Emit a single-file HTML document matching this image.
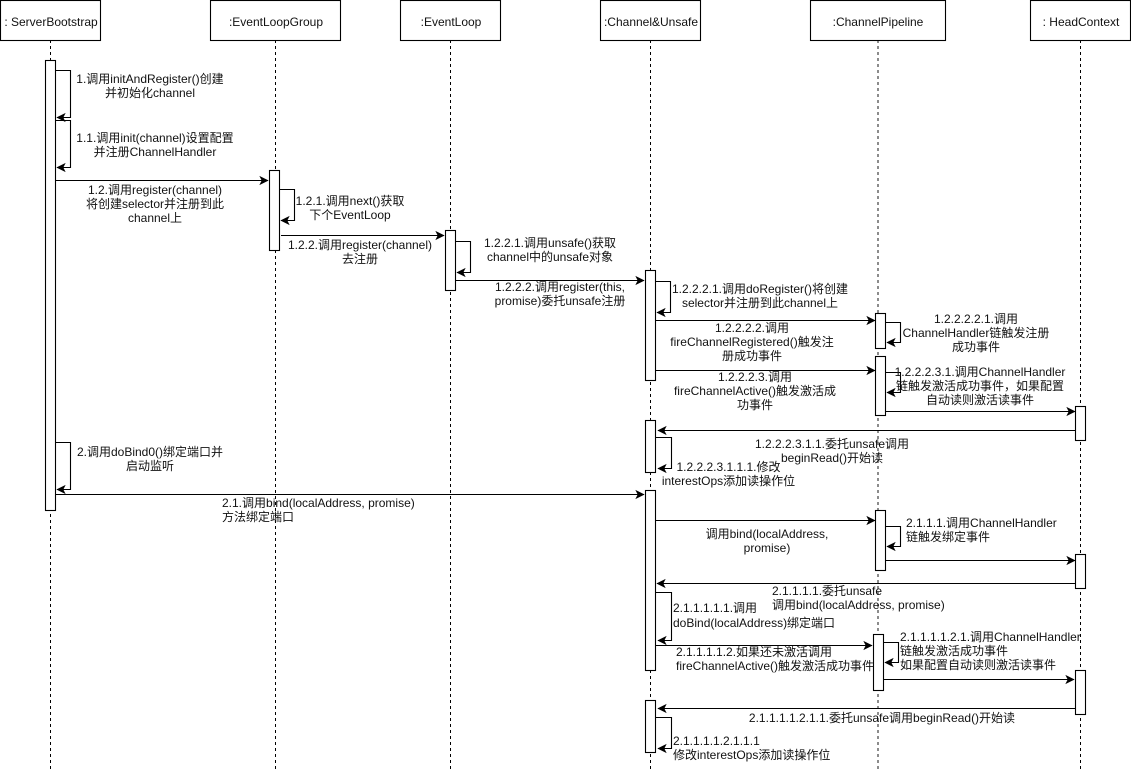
<!DOCTYPE html>
<html><head><meta charset="utf-8"><style>
html,body{margin:0;padding:0;background:#fff}
svg{display:block;filter:blur(0.3px)}
text{font-family:"Liberation Sans","Noto Sans CJK SC",sans-serif;font-size:12px;fill:#111}
.m{text-anchor:middle}
.a{fill:none;stroke:#000;stroke-width:1.1;marker-end:url(#h)}
.b{fill:#fff;stroke:#000;stroke-width:1.1}
.l{stroke:#000;stroke-width:1;stroke-dasharray:3 3}
</style></head><body>
<svg width="1131" height="771" viewBox="0 0 1131 771" xmlns="http://www.w3.org/2000/svg">
<defs><marker id="h" markerUnits="userSpaceOnUse" markerWidth="12" markerHeight="12" refX="9" refY="6" orient="auto"><path d="M9 6L1 2L3 6L1 10Z" fill="#000" stroke="#000" stroke-width="0.6"/></marker></defs>
<!-- lifelines -->
<path class="l" d="M50.5 40V769"/><path class="l" d="M275.5 40V769"/><path class="l" d="M450.5 40V769"/><path class="l" d="M650.5 40V769"/><path class="l" d="M878 40V769" style="stroke:#666;stroke-width:1.5"/><path class="l" d="M1080.5 40V769"/>
<!-- heads -->
<rect class="b" x="0.5" y="0.5" width="100" height="40"/><rect class="b" x="210.5" y="0.5" width="130" height="40"/><rect class="b" x="400.5" y="0.5" width="100" height="40"/><rect class="b" x="600.5" y="0.5" width="100" height="40"/><rect class="b" x="810.5" y="0.5" width="135" height="40"/><rect class="b" x="1030.5" y="0.5" width="100" height="40"/>
<text class="m" x="51" y="26">: ServerBootstrap</text><text class="m" x="276" y="26">:EventLoopGroup</text><text class="m" x="451" y="26">:EventLoop</text><text class="m" x="651" y="26">:Channel&amp;Unsafe</text><text class="m" x="878" y="26">:ChannelPipeline</text><text class="m" x="1081" y="26">: HeadContext</text>
<!-- activations -->
<rect class="b" x="45.5" y="60.5" width="10" height="450"/>
<rect class="b" x="269.5" y="170.5" width="10" height="80"/>
<rect class="b" x="445.5" y="230.5" width="10" height="60"/>
<rect class="b" x="645.5" y="270.5" width="10" height="110"/>
<rect class="b" x="645.5" y="420.5" width="10" height="52"/>
<rect class="b" x="645.5" y="490.5" width="10" height="180"/>
<rect class="b" x="645.5" y="700.5" width="10" height="52"/>
<rect class="b" x="875.5" y="313.5" width="10" height="35"/>
<rect class="b" x="875.5" y="356.5" width="10" height="59"/>
<rect class="b" x="875.5" y="510.5" width="10" height="60"/>
<rect class="b" x="873.5" y="634.5" width="10" height="56"/>
<rect class="b" x="1075.5" y="406.5" width="10" height="34"/>
<rect class="b" x="1075.5" y="554.5" width="10" height="34"/>
<rect class="b" x="1075.5" y="670.5" width="10" height="44"/>
<!-- messages -->
<path class="a" d="M55.5 70.5H70.5V117.5H57"/>
<path class="a" d="M55.5 120.5H70.5V167.5H57"/>
<path class="a" d="M55.5 180.5H268"/>
<path class="a" d="M279.5 189.5H294.5V220.5H281"/>
<path class="a" d="M281 235.5H444"/>
<path class="a" d="M455.5 241.5H470.5V272.5H457"/>
<path class="a" d="M455.5 280.5H644"/>
<path class="a" d="M655.5 281.5H670.5V312.5H657"/>
<path class="a" d="M655.5 320.5H875"/>
<path class="a" d="M885.5 322.5H900.5V342.5H887"/>
<path class="a" d="M655.5 370.5H875"/>
<path class="a" d="M885.5 372.5H900.5V392.5H887"/>
<path class="a" d="M885.5 411.5H1075"/>
<path class="a" d="M1075.5 430.5H658"/>
<path class="a" d="M656 437.5H671.5V468.5H658"/>
<path class="a" d="M55.5 442.5H70.5V489.5H57"/>
<path class="a" d="M55.5 494.5H644"/>
<path class="a" d="M655.5 520.5H875"/>
<path class="a" d="M885.5 526.5H900.5V546.5H887"/>
<path class="a" d="M885.5 560.5H1075"/>
<path class="a" d="M1075.5 583.5H657"/>
<path class="a" d="M655.5 592.5H671.5V640.5H658"/>
<path class="a" d="M655.5 645.5H872"/>
<path class="a" d="M883.5 642.5H898.5V662.5H885"/>
<path class="a" d="M883.5 679.5H1074"/>
<path class="a" d="M1075.5 708.5H658"/>
<path class="a" d="M655.5 717.5H671.5V748.5H658"/>
<!-- labels -->
<text class="m" x="150" y="83">1.调用initAndRegister()创建</text><text class="m" x="150" y="97">并初始化channel</text>
<text class="m" x="155" y="142">1.1.调用init(channel)设置配置</text><text class="m" x="155" y="156">并注册ChannelHandler</text>
<text class="m" x="155" y="194">1.2.调用register(channel)</text><text class="m" x="155" y="208">将创建selector并注册到此</text><text class="m" x="155" y="222">channel上</text>
<text class="m" x="350" y="205">1.2.1.调用next()获取</text><text class="m" x="350" y="219">下个EventLoop</text>
<text class="m" x="360" y="249">1.2.2.调用register(channel)</text><text class="m" x="360" y="263">去注册</text>
<text class="m" x="550" y="247">1.2.2.1.调用unsafe()获取</text><text class="m" x="550" y="261">channel中的unsafe对象</text>
<text class="m" x="560" y="291">1.2.2.2.调用register(this,</text><text class="m" x="560" y="305">promise)委托unsafe注册</text>
<text class="m" x="760" y="293">1.2.2.2.1.调用doRegister()将创建</text><text class="m" x="760" y="307">selector并注册到此channel上</text>
<text class="m" x="752" y="332">1.2.2.2.2.调用</text><text class="m" x="752" y="346">fireChannelRegistered()触发注</text><text class="m" x="752" y="360">册成功事件</text>
<text class="m" x="976" y="323">1.2.2.2.2.1.调用</text><text class="m" x="976" y="337">ChannelHandler链触发注册</text><text class="m" x="976" y="351">成功事件</text>
<text class="m" x="755" y="381">1.2.2.2.3.调用</text><text class="m" x="755" y="395">fireChannelActive()触发激活成</text><text class="m" x="755" y="409">功事件</text>
<text class="m" x="980" y="376">1.2.2.2.3.1.调用ChannelHandler</text><text class="m" x="980" y="390">链触发激活成功事件，如果配置</text><text class="m" x="980" y="404">自动读则激活读事件</text>
<text class="m" x="832" y="448">1.2.2.2.3.1.1.委托unsafe调用</text><text class="m" x="832" y="462">beginRead()开始读</text>
<text class="m" x="728.5" y="471">1.2.2.2.3.1.1.1.修改</text><text class="m" x="728.5" y="485">interestOps添加读操作位</text>
<text class="m" x="150" y="456">2.调用doBind0()绑定端口并</text><text class="m" x="150" y="470">启动监听</text>
<text x="222" y="507">2.1.调用bind(localAddress, promise)</text><text x="222" y="521">方法绑定端口</text>
<text class="m" x="767" y="538">调用bind(localAddress,</text><text class="m" x="767" y="552">promise)</text>
<text x="906" y="527">2.1.1.1.调用ChannelHandler</text><text x="906" y="541">链触发绑定事件</text>
<text x="772" y="595">2.1.1.1.1.委托unsafe</text><text x="772" y="609">调用bind(localAddress, promise)</text>
<text x="673" y="612">2.1.1.1.1.1.调用</text><text x="673" y="627">doBind(localAddress)绑定端口</text>
<text x="676" y="656">2.1.1.1.1.2.如果还未激活调用</text><text x="676" y="670">fireChannelActive()触发激活成功事件</text>
<text x="900" y="641">2.1.1.1.1.2.1.调用ChannelHandler</text><text x="900" y="655">链触发激活成功事件</text><text x="900" y="669">如果配置自动读则激活读事件</text>
<text class="m" x="882" y="722">2.1.1.1.1.2.1.1.委托unsafe调用beginRead()开始读</text>
<text x="673" y="745">2.1.1.1.1.2.1.1.1</text><text x="673" y="759">修改interestOps添加读操作位</text>
</svg>
</body></html>
